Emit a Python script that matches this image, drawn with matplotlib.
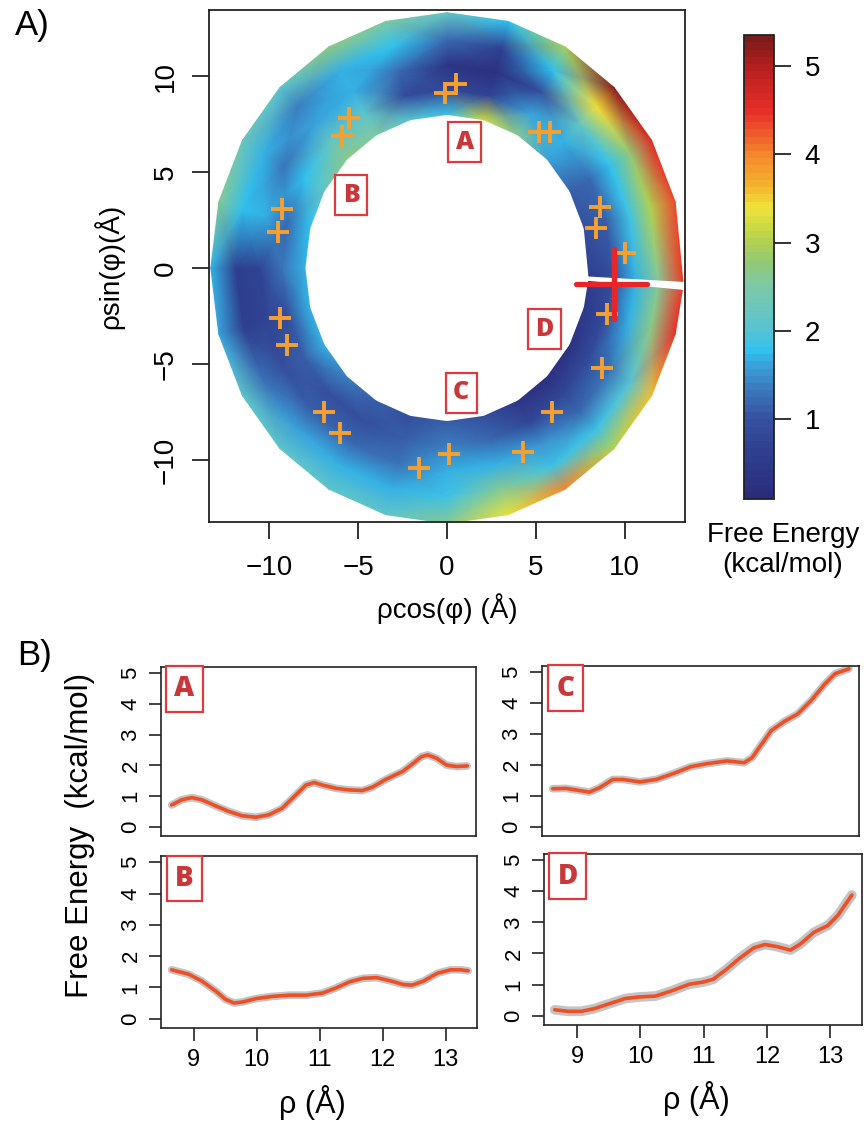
import numpy as np
import matplotlib
matplotlib.use('Agg')
import matplotlib.pyplot as plt
from matplotlib.colors import LinearSegmentedColormap

plt.rcParams['font.family'] = ['Liberation Sans', 'DejaVu Sans']

# Painel A: energia livre no anel (rho, phi)
phi_deg = [-3, 15, 30, 45, 60, 75, 90, 105, 120, 135, 150, 165, 180,
           195, 210, 225, 240, 255, 270, 285, 300, 315, 330, 345, 355]
rho_ring = [8.0, 9.3, 10.6, 11.9, 13.3]
fe_ring1 = [0.6, 1.0, 1.1, 1.6, 2.6, 3.2, 1.9, 2.0, 2.5, 2.7, 2.2, 1.8, 1.7,
            1.7, 1.7, 1.4, 1.1, 1.0, 1.1, 1.0, 0.4, 0.2, 0.3, 0.5, 0.6]
fe_ring2 = [0.9, 1.1, 1.2, 1.7, 1.6, 0.7, 0.8, 0.9, 2.1, 2.2, 1.8, 1.2, 1.3,
            1.0, 1.1, 1.0, 1.0, 1.1, 1.4, 1.2, 0.8, 0.8, 0.9, 0.9, 0.9]
fe_ring3 = [1.7, 1.9, 1.8, 2.2, 1.0, 0.2, 0.4, 1.2, 1.7, 1.6, 1.3, 1.7, 0.7,
            0.7, 1.0, 1.1, 1.2, 1.3, 1.7, 1.7, 1.5, 1.2, 1.3, 1.7, 1.7]
fe_ring4 = [2.6, 3.0, 2.8, 3.4, 1.8, 0.7, 1.2, 1.8, 1.7, 1.4, 1.7, 1.8, 0.6,
            0.6, 1.3, 1.6, 1.7, 1.7, 1.9, 2.6, 1.9, 1.9, 2.0, 2.7, 2.6]
fe_ring5 = [4.4, 4.3, 4.6, 5.2, 2.9, 1.8, 2.2, 2.5, 2.7, 2.1, 2.3, 2.6, 1.7,
            1.6, 2.1, 2.1, 2.1, 2.1, 2.6, 3.3, 4.0, 3.0, 3.6, 4.5, 4.4]

# cruzes (posicoes das estruturas)
cruz_x = [-0.1, 0.5, -5.5, -5.9, 5.2, 5.8, -9.3, -9.5, 8.6, 8.4, 10.0,
          9.0, -9.4, -9.0, 8.7, -6.9, -6.0, 5.9, 0.1, -1.6, 4.3]
cruz_y = [9.1, 9.6, 7.8, 6.9, 7.1, 7.1, 3.1, 1.9, 3.2, 2.1, 0.8,
          -2.4, -2.6, -4.0, -5.2, -7.5, -8.6, -7.5, -9.7, -10.4, -9.6]

# regioes A-D
reg_nome = ['A', 'B', 'C', 'D']
reg_x = [1.0, -5.4, 0.8, 5.5]
reg_y = [6.55, 3.8, -6.5, -3.2]

# cruz vermelha (corte)
corte_x = [7.26, 11.26]
corte_y = [-0.83, -0.83]
sel_x = [9.4, 9.4]
sel_y = [1.0, -2.66]

# Painel B: perfis de energia livre ao longo de rho
rho_A = [8.65, 8.81, 8.97, 9.13, 9.35, 9.56, 9.77, 9.99, 10.2, 10.41, 10.63,
         10.79, 10.92, 11.05, 11.27, 11.48, 11.69, 11.85, 12.07, 12.33, 12.49,
         12.63, 12.73, 12.87, 13.03, 13.19, 13.36]
fe_A = [0.71, 0.88, 0.95, 0.88, 0.68, 0.50, 0.36, 0.31, 0.39, 0.60, 1.04,
        1.36, 1.44, 1.36, 1.25, 1.20, 1.18, 1.29, 1.55, 1.80, 2.05,
        2.28, 2.34, 2.23, 2.01, 1.96, 1.98]
rho_B = [8.65, 8.92, 9.13, 9.35, 9.51, 9.64, 9.77, 9.99, 10.25, 10.52, 10.79,
         11.05, 11.27, 11.48, 11.69, 11.91, 12.12, 12.33, 12.47, 12.65, 12.87,
         13.08, 13.24, 13.36]
fe_B = [1.56, 1.42, 1.20, 0.88, 0.61, 0.50, 0.53, 0.64, 0.71, 0.75, 0.75,
        0.82, 0.99, 1.18, 1.29, 1.31, 1.21, 1.09, 1.07, 1.20, 1.45,
        1.56, 1.56, 1.53]
rho_C = [8.65, 8.86, 9.02, 9.23, 9.39, 9.60, 9.76, 10.03, 10.29, 10.56, 10.83,
         11.09, 11.41, 11.68, 11.81, 11.95, 12.11, 12.32, 12.53, 12.74, 12.96,
         13.12, 13.34]
fe_C = [1.23, 1.24, 1.19, 1.12, 1.26, 1.53, 1.53, 1.45, 1.53, 1.72, 1.94,
        2.04, 2.13, 2.07, 2.24, 2.65, 3.11, 3.41, 3.65, 4.08, 4.62,
        4.95, 5.11]
rho_D = [8.65, 8.86, 9.07, 9.28, 9.55, 9.76, 9.97, 10.24, 10.51, 10.77, 10.99,
         11.15, 11.36, 11.57, 11.79, 11.97, 12.16, 12.37, 12.53, 12.74, 12.96,
         13.12, 13.34]
fe_D = [0.19, 0.14, 0.14, 0.23, 0.41, 0.55, 0.60, 0.63, 0.81, 1.01, 1.08,
        1.17, 1.49, 1.85, 2.18, 2.29, 2.22, 2.11, 2.31, 2.68, 2.90,
        3.23, 3.88]

# Mapa de cores
vmin, vmax = 0.1, 5.35
cores = [(0.10, '#2a2d7c'), (0.6, '#2f3f8f'), (1.0, '#3652a0'), (1.3, '#3b78bb'),
         (1.55, '#3c98d4'), (1.77, '#30c2ef'), (2.0, '#58c3d3'), (2.5, '#7dc9a8'),
         (2.8, '#95c972'), (3.05, '#b7d24c'), (3.4, '#efe43a'), (3.65, '#f3b42f'),
         (4.0, '#f4892c'), (4.5, '#e8302a'), (5.0, '#b8201e'), (5.35, '#7a1c1c')]
cmap = LinearSegmentedColormap.from_list(
    'fe', [((v - vmin) / (vmax - vmin), c) for v, c in cores], N=64)

vermelho = '#c8383b'
borda = '#e0393d'
preto = '#222222'
fonte_caixa = ['Open Sans', 'DejaVu Sans']

fig = plt.figure(figsize=(8.64, 11.26), dpi=100)

# ---------------- Painel A ----------------
axA = fig.add_axes([209/864, 1-522/1126, 476/864, 512/1126])
P, R = np.meshgrid(np.radians(phi_deg), rho_ring)
X = R*np.cos(P)
Y = R*np.sin(P)
C = np.array([fe_ring1, fe_ring2, fe_ring3, fe_ring4, fe_ring5])
mesh = axA.pcolormesh(X, Y, C, shading='gouraud', cmap=cmap, vmin=vmin, vmax=vmax)

axA.plot(cruz_x, cruz_y, ls='none', marker='+', ms=16, mew=2.8, color='#f5a031')
axA.plot(corte_x, corte_y, color='#e8262a', lw=3.8, solid_capstyle='round')
axA.plot(sel_x, sel_y, color='#e8262a', lw=3.8, solid_capstyle='round')

for nome, x, y in zip(reg_nome, reg_x, reg_y):
    axA.text(x, y, nome, ha='center', va='center', color=vermelho, fontsize=18,
             fontweight='heavy', family=fonte_caixa,
             bbox=dict(boxstyle='square,pad=0.3', fc='white', ec=borda, lw=1.6))

axA.set_xlim(-13.4, 13.4)
axA.set_ylim(-13.23, 13.44)
axA.set_xticks([-10, -5, 0, 5, 10])
axA.set_yticks([-10, -5, 0, 5, 10])
axA.set_xticklabels(['\u221210', '\u22125', '0', '5', '10'])
axA.set_yticklabels(['\u221210', '\u22125', '0', '5', '10'])
axA.tick_params(length=12, width=1.3, labelsize=20, color=preto)
axA.tick_params(axis='x', pad=12)
axA.tick_params(axis='y', pad=10, labelrotation=90)
for lab in axA.get_yticklabels():
    lab.set_va('center')
for s in axA.spines.values():
    s.set_linewidth(1.3)
    s.set_color(preto)
axA.set_xlabel('\u03c1cos(\u03c6) (\u00c5)', fontsize=20)
axA.set_ylabel('\u03c1sin(\u03c6)(\u00c5)', fontsize=20)
axA.xaxis.set_label_coords(0.5, -0.139)
axA.yaxis.set_label_coords(-0.179, 0.5)

# barra de cores
cax = fig.add_axes([744/864, 1-499/1126, 30/864, 464/1126])
cb = fig.colorbar(mesh, cax=cax, ticks=[1, 2, 3, 4, 5])
cb.outline.set_linewidth(1.3)
cb.outline.set_edgecolor(preto)
cax.tick_params(length=12, width=1.3, labelsize=20, pad=10, color=preto)
fig.text(783/864, 1-550/1126, 'Free Energy\n(kcal/mol)', ha='center', va='center',
         fontsize=20, linespacing=1.2)

fig.text(15/864, 1-25/1126, 'A)', ha='left', va='center', fontsize=25)
fig.text(17/864, 1-655/1126, 'B)', ha='left', va='center', fontsize=25)

# ---------------- Painel B ----------------
posicoes = {'A': [161/864, 1-836/1126, 315/864, 169/1126],
            'C': [542/864, 1-836/1126, 317/864, 170/1126],
            'B': [161/864, 1-1028/1126, 316/864, 172/1126],
            'D': [544/864, 1-1025/1126, 318/864, 171/1126]}
perfis = {'A': (rho_A, fe_A), 'B': (rho_B, fe_B),
          'C': (rho_C, fe_C), 'D': (rho_D, fe_D)}

for nome in ['A', 'C', 'B', 'D']:
    ax = fig.add_axes(posicoes[nome])
    xs, ys = perfis[nome]
    sombra = 7 if nome == 'D' else 5.5
    ax.plot(xs, ys, color='#c4c4c4', lw=sombra, solid_capstyle='round')
    ax.plot(xs, ys, color='#f04e23', lw=2.6, solid_capstyle='round')
    ax.text(0.074, 0.87, nome, transform=ax.transAxes, ha='center', va='center',
            color=vermelho, fontsize=20, fontweight='heavy', family=fonte_caixa,
            bbox=dict(boxstyle='square,pad=0.3', fc='white', ec=borda, lw=1.6))
    ax.set_xlim(8.48, 13.5)
    ax.set_ylim(-0.3, 5.2)
    ax.set_yticks([0, 1, 2, 3, 4, 5])
    ax.set_xticks([9, 10, 11, 12, 13])
    ax.tick_params(length=9, width=1.2, color=preto)
    ax.tick_params(axis='y', labelsize=16, pad=5, labelrotation=90)
    for lab in ax.get_yticklabels():
        lab.set_va('center')
    ax.tick_params(axis='x', labelsize=17, pad=6)
    for s in ax.spines.values():
        s.set_linewidth(1.2)
        s.set_color(preto)
    if nome in ['A', 'C']:
        ax.tick_params(axis='x', bottom=False, labelbottom=False)
    else:
        ax.set_xlabel('\u03c1 (\u00c5)', fontsize=22)
        ax.xaxis.set_label_coords(0.48, -0.33)

fig.text(80/864, 1-835/1126, 'Free Energy  (kcal/mol)', rotation=90,
         ha='center', va='center', fontsize=22.5)

fig.savefig('out.png', dpi=100)
